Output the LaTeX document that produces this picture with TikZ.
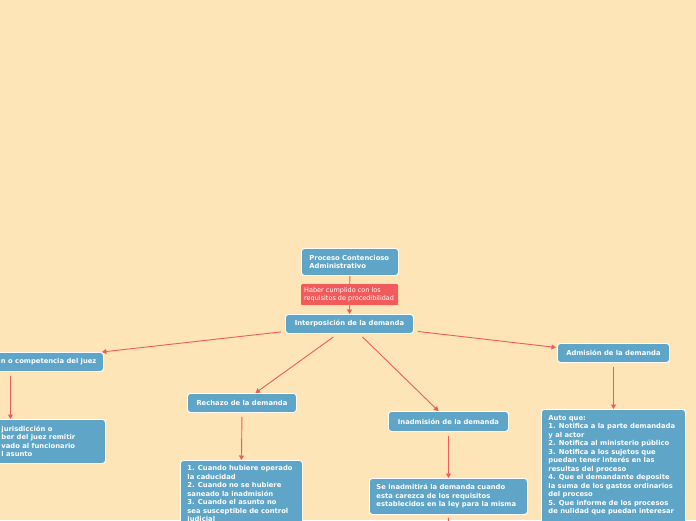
\documentclass[tikz,border=0pt]{standalone}
\usepackage{fontspec}
\setmainfont{DejaVu Sans}
\usetikzlibrary{arrows.meta,calc}
\definecolor{bg}{HTML}{FEE5B7}
\definecolor{boxblue}{HTML}{5EA5C8}
\definecolor{arr}{HTML}{F15B5B}
\begin{document}
\begin{tikzpicture}[x=1pt,y=-1pt,
  tbox/.style={draw=white, line width=0.9pt, fill=boxblue, rounded corners=3pt, text=white,
    font=\bfseries\fontsize{6.8}{8.5}\selectfont, inner sep=0pt, anchor=north west},
  rbox/.style={fill=arr, rounded corners=1pt, text=white,
    font=\fontsize{6.5}{8.5}\selectfont, inner sep=0pt, anchor=north west},
  link/.style={draw=arr, line width=0.9pt},
  conn/.style={link, -{Triangle[width=5pt,length=4.5pt]}}]
\useasboundingbox (0,0) rectangle (696,520);
\clip (0,0) rectangle (696,520);
\fill[bg] (0,0) rectangle (696,520);

\node[tbox, minimum width=97pt, minimum height=27pt] (proc) at (301,248)
  {\parbox{81pt}{Proceso Contencioso\\Administrativo}};
\node[rbox, minimum width=97pt, minimum height=21pt] (req) at (301,284)
  {\parbox{91pt}{Haber cumplido con los\\requisitos de procedibilidad}};
\node[tbox, minimum width=128pt, minimum height=19pt] (inter) at (285,314)
  {Interposición de la demanda};
\node[tbox, minimum width=110pt, minimum height=19pt] (falta) at (-7,352)
  {\parbox{96pt}{\raggedleft n o competencia del juez}};
\node[tbox, minimum width=112pt, minimum height=44pt] (faltatext) at (-7,419)
  {\parbox{96pt}{jurisdicción o\\ber del juez remitir\\vado al funcionario\\l asunto}};
\node[tbox, minimum width=109pt, minimum height=19pt] (rech) at (187,393)
  {Rechazo de la demanda};
\node[tbox, minimum width=122pt, minimum height=80pt] (rechtext) at (180,460)
  {\parbox[c][70pt][t]{108pt}{1. Cuando hubiere operado\\la caducidad\\2. Cuando no se hubiere\\saneado la inadmisión\\3. Cuando el asunto no\\sea susceptible de control\\judicial}};
\node[tbox, minimum width=120pt, minimum height=20pt] (inad) at (388,411)
  {Inadmisión de la demanda};
\node[tbox, minimum width=158pt, minimum height=36pt] (inadtext) at (369,478)
  {\parbox{144pt}{Se inadmitirá la demanda cuando\\esta carezca de los requisitos\\establecidos en la ley para la misma}};
\node[tbox, minimum width=112pt, minimum height=19pt] (adm) at (557,343)
  {Admisión de la demanda};
\node[tbox, minimum width=144pt, minimum height=151pt] (admtext) at (541,409)
  {\parbox[c][139pt][t]{130pt}{Auto que:\\1. Notifica a la parte demandada\\y al actor\\2. Notifica al ministerio público\\3. Notifica a los sujetos que\\puedan tener interés en las\\resultas del proceso\\4. Que el demandante deposite\\la suma de los gastos ordinarios\\del proceso\\5. Que informe de los procesos\\de nulidad que puedan interesar}};
\coordinate (below) at (448,545);

\draw[link] (proc.south) -- (req.north);
\draw[conn] (req.south) -- (inter.north);
\draw[conn] ([shift={(-4,-2)}]inter.south west) -- ([shift={(-2,0)}]falta.north east);
\draw[conn] ([shift={(-16,3)}]inter.south) -- ([shift={(13.5,0)}]rech.north);
\draw[conn] ([shift={(13,3)}]inter.south) -- ([shift={(-10,0)}]inad.north);
\draw[conn] ([shift={(4,7.5)}]inter.east) -- ([shift={(-1,-5.5)}]adm.west);
\draw[conn] ([shift={(-38,4)}]falta.south) -- ([shift={(-39,0)}]faltatext.north);
\draw[conn] ([shift={(0,4)}]rech.south) -- (rechtext.north);
\draw[conn] ([shift={(0,4)}]inad.south) -- (inadtext.north);
\draw[conn] ([shift={(0,4)}]adm.south) -- (admtext.north);
\draw[conn] ([shift={(0,3)}]inadtext.south) -- (below);
\end{tikzpicture}
\end{document}
